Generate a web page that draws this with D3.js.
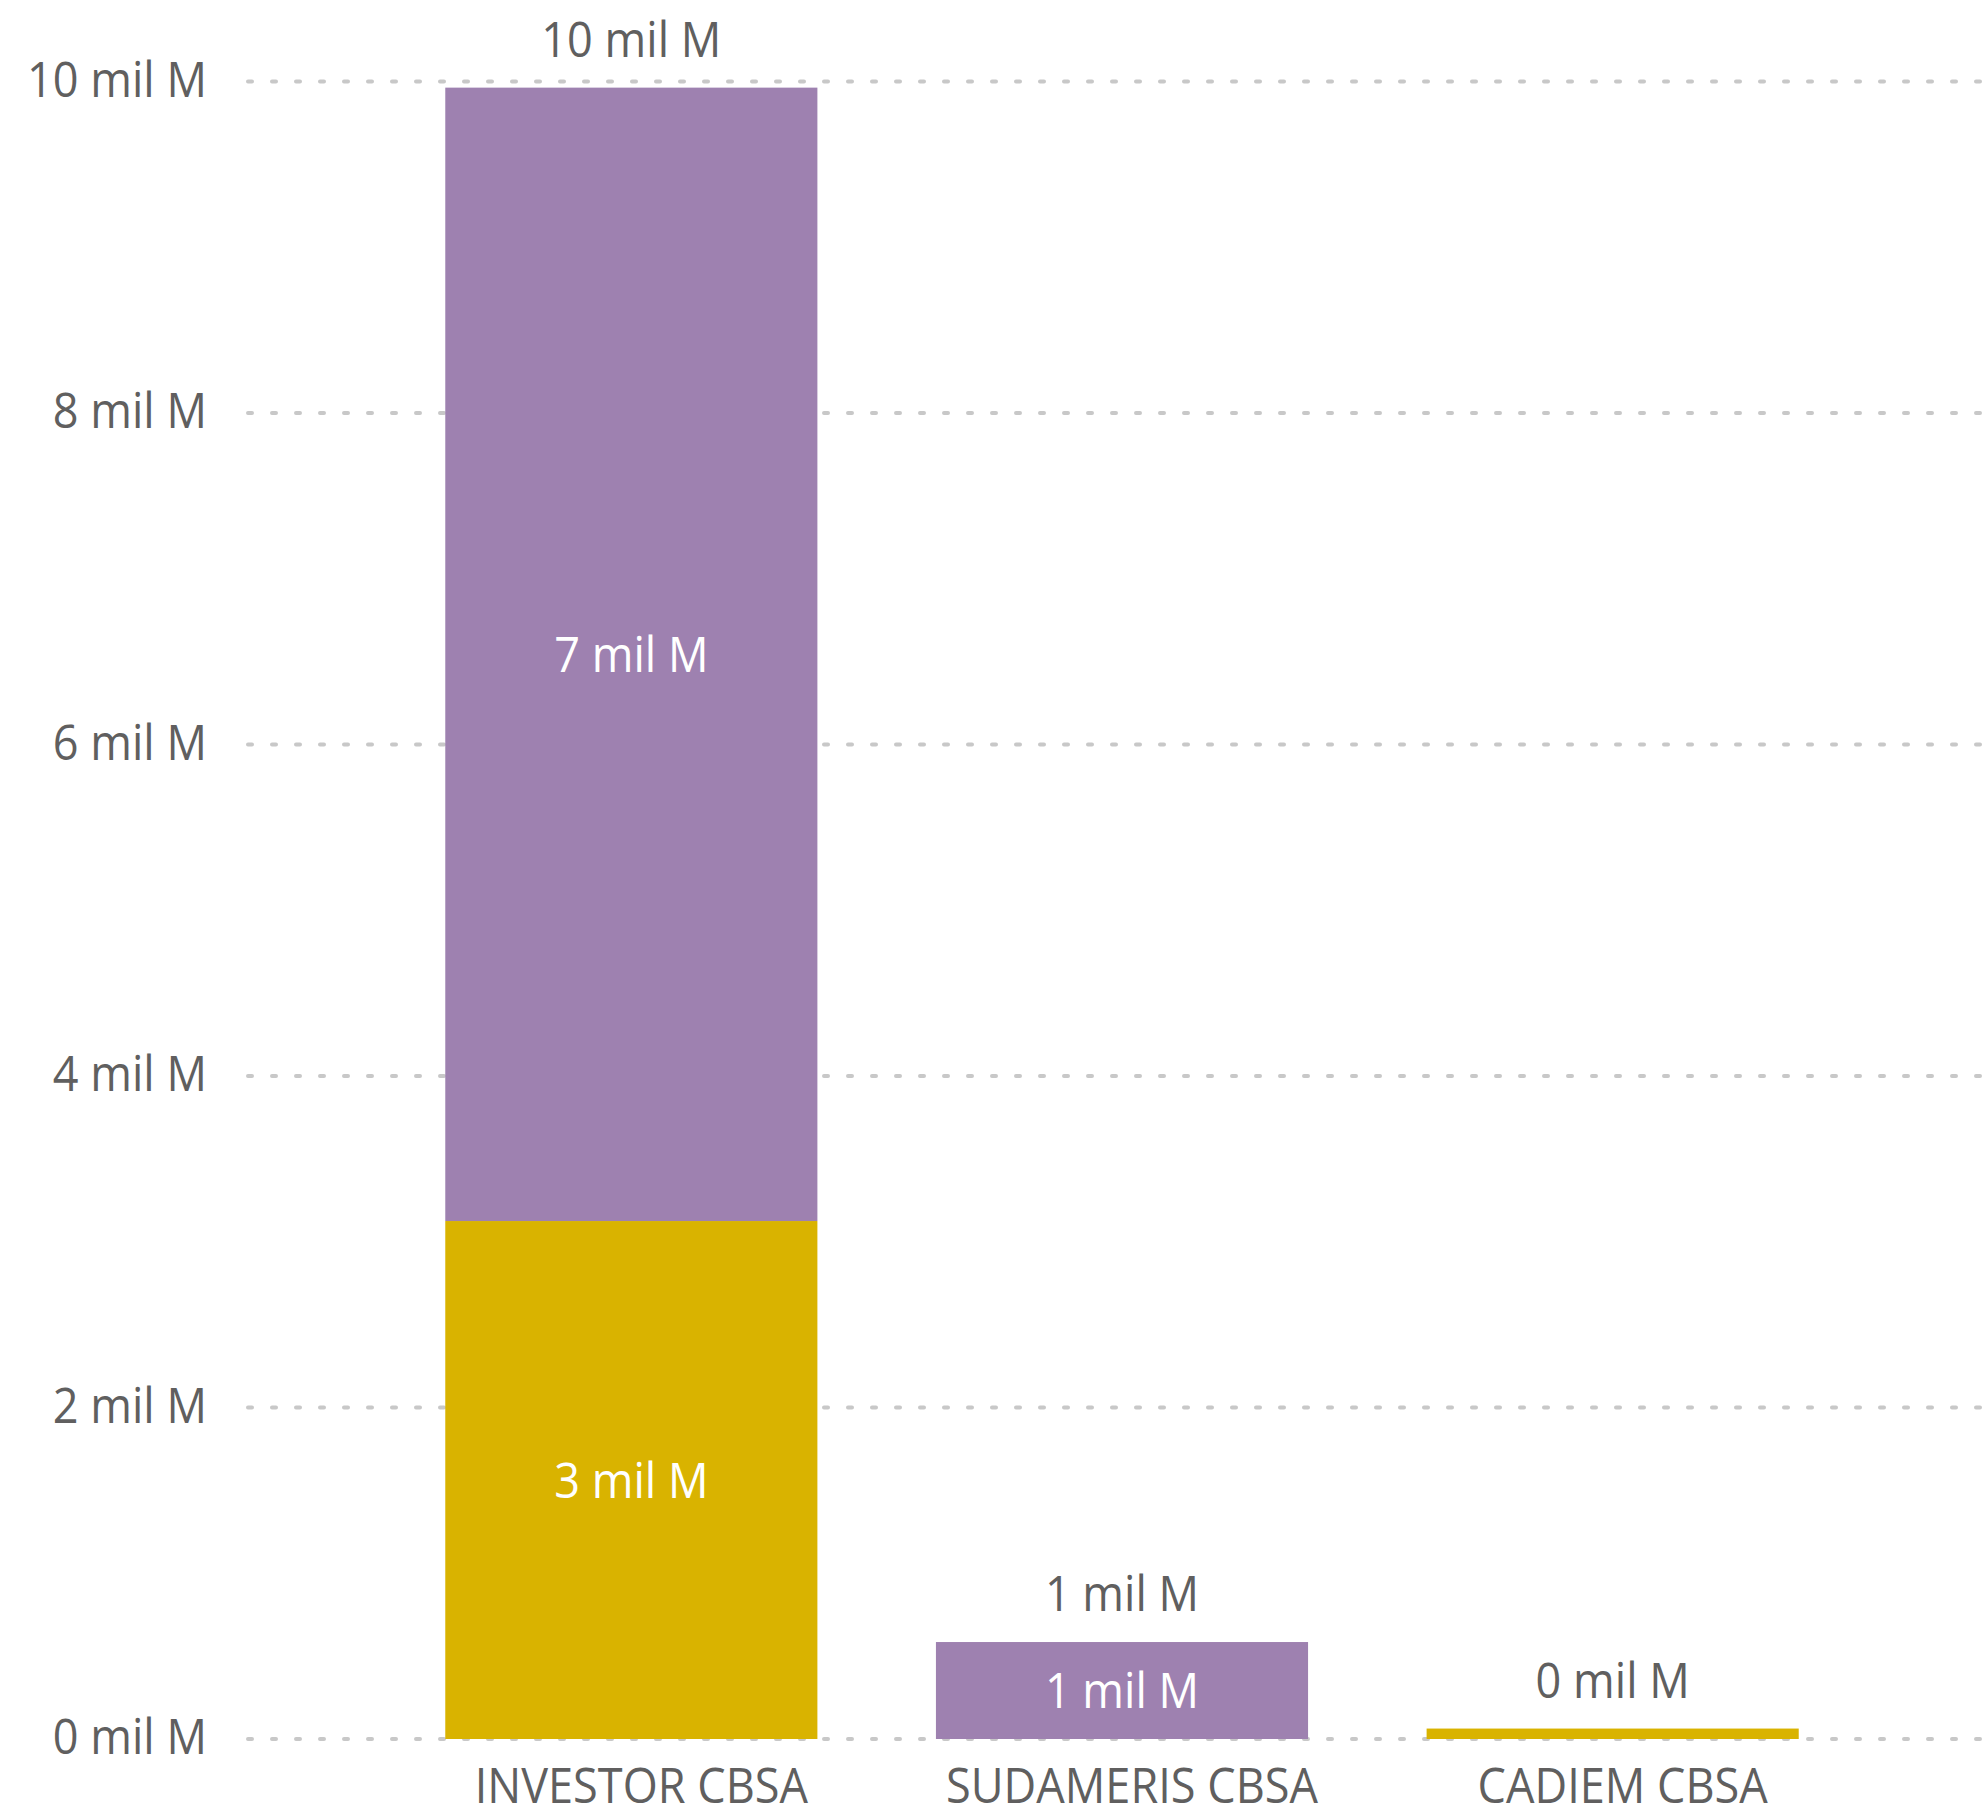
<!DOCTYPE html>
<html>
<head>
<meta charset="utf-8">
<script src="https://cdn.jsdelivr.net/npm/d3@7"></script>
<style>
  html, body { margin: 0; padding: 0; background: #ffffff; }
  svg { display: block; }
  text { font-family: "Open Sans", "Noto Sans", sans-serif; }
</style>
</head>
<body>
<svg id="chart" width="1987" height="1807"></svg>
<script>
// ---- data (values in "mil M") ----
const categories = ["INVESTOR CBSA", "SUDAMERIS CBSA", "CADIEM CBSA"];
const seriesKeys = ["Serie 1", "Serie 2"];
const serie1Values = [3.125, 0, 0.063];   // yellow (bottom)
const serie2Values = [6.838, 0.585, 0];   // purple (top)
const yTicks = [0, 2, 4, 6, 8, 10];
const seriesColors = ["#D9B300", "#9E81B0"];

const fmt = v => `${Math.round(v)} mil M`;

const rows = categories.map((c, i) => ({
  category: c,
  "Serie 1": serie1Values[i],
  "Serie 2": serie2Values[i]
}));

const svg = d3.select("#chart");
const W = 1987, H = 1807;
const textColor = "#605f5f";
const fontSize = 49;
const sx = 0.92; // horizontal condensation to match reference glyph widths

const y = d3.scaleLinear().domain([0, 10]).range([1739, 81.5]);
const x = d3.scaleBand().domain(categories).range([386, 1858])
  .paddingInner(0.2416).paddingOuter(0.1208);

// gridlines
const gridLeft = 248;
svg.append("g").selectAll("line").data(yTicks).join("line")
  .attr("x1", gridLeft).attr("x2", W)
  .attr("y1", d => y(d)).attr("y2", d => y(d))
  .attr("stroke", "#c8c8c8").attr("stroke-width", 4)
  .attr("stroke-linecap", "round")
  .attr("stroke-dasharray", "4 20");

// y axis labels
function addText(g, tx, ty, str, anchor, fill) {
  g.append("text")
    .attr("transform", `translate(${tx},${ty}) scale(${sx},1)`)
    .attr("text-anchor", anchor)
    .attr("font-size", fontSize)
    .attr("fill", fill)
    .text(str);
}
const yAxisG = svg.append("g");
yTicks.forEach(t => addText(yAxisG, 207, y(t) + 15, fmt(t), "end", textColor));

// stacked bars
const stack = d3.stack().keys(seriesKeys);
const stacked = stack(rows);

const barsG = svg.append("g");
stacked.forEach((layer, li) => {
  barsG.append("g").attr("fill", seriesColors[li])
    .selectAll("rect").data(layer).join("rect")
    .attr("x", d => x(d.data.category))
    .attr("width", x.bandwidth())
    .attr("y", d => y(d[1]))
    .attr("height", d => Math.max(0, y(d[0]) - y(d[1])));
});

// inner segment labels
const innerG = svg.append("g");
stacked.forEach(layer => {
  layer.forEach(d => {
    const h = y(d[0]) - y(d[1]);
    if (h > 60) {
      const cy = (y(d[0]) + y(d[1])) / 2;
      addText(innerG, x(d.data.category) + x.bandwidth() / 2, cy + 17.5,
              fmt(d[1] - d[0]), "middle", "#ffffff");
    }
  });
});

// total labels
const totalG = svg.append("g");
rows.forEach((r, i) => {
  const total = serie1Values[i] + serie2Values[i];
  addText(totalG, x(r.category) + x.bandwidth() / 2, y(total) - 31,
          fmt(total), "middle", textColor);
});

// category labels
const catG = svg.append("g");
categories.forEach(c => {
  addText(catG, x(c) + x.bandwidth() / 2 + 10, 1803, c, "middle", textColor);
});
</script>
</body>
</html>
